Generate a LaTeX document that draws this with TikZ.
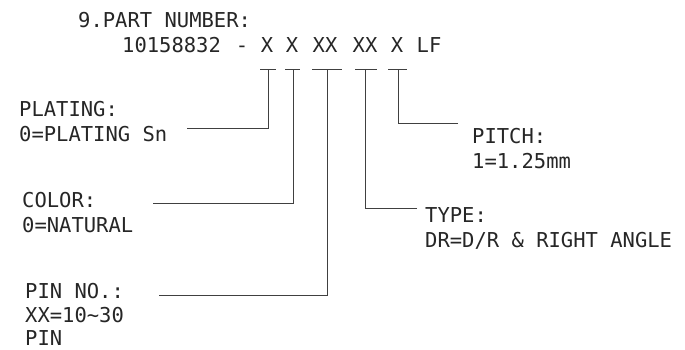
\documentclass[tikz,border=0pt]{standalone}
\usepackage{fontspec}
\newfontfamily\cadfont{DejaVu Sans Mono}
\usetikzlibrary{positioning}

\begin{document}
\begin{tikzpicture}[x=1pt,y=-1pt,lbl/.style={font=\cadfont\fontsize{20.5}{24.5}\selectfont,inner sep=0pt,anchor=base west,align=left,text=black!85},note/.style={lbl,anchor=north west},dig/.style={lbl,anchor=base},conn/.style={line width=1pt,draw=black!75}]
    \useasboundingbox (0,0) rectangle (685,349);
    \node[lbl] (title) at (78,27.5) {9.PART NUMBER:};
    \node[lbl] (pnum) at (122,52.5) {10158832};
    \node[dig] (dash) at (242,52.5) {-};
    \node[dig] (x1) at (267,52.5) {X};
    \node[dig] (x2) at (292,52.5) {X};
    \node[dig] (x3) at (325,52.5) {XX};
    \node[dig] (x4) at (365,52.5) {XX};
    \node[dig] (x5) at (397,52.5) {X};
    \node[dig] (lf) at (429,52.5) {LF};
    \node[note] (plating) at (19,101.5) {PLATING:\\0=PLATING Sn};
    \node[note] (color) at (22,192.5) {COLOR:\\0=NATURAL};
    \node[note,font=\cadfont\fontsize{20.5}{23.2}\selectfont] (pin) at (25,283.5) {PIN NO.:\\XX=10\textasciitilde30\\PIN};
    \node[note] (type) at (425,207.5) {TYPE:\\DR=D/R \& RIGHT ANGLE};
    \node[note] (pitch) at (472,128.5) {PITCH:\\1=1.25mm};
    \coordinate (t1) at (268,69);
    \coordinate (t2) at (293,69);
    \coordinate (t3) at (327,69);
    \coordinate (t4) at (365,69);
    \coordinate (t5) at (398,69);
    \coordinate (platingEnd) at (187,128);
    \coordinate (colorEnd) at (153,203);
    \coordinate (pinEnd) at (159,295);
    \coordinate (typeEnd) at (417,208);
    \coordinate (pitchEnd) at (458,123);
    \draw[conn] ([xshift=-8]t1) -- ([xshift=8]t1);
    \draw[conn] ([xshift=-8]t2) -- ([xshift=7]t2);
    \draw[conn] ([xshift=-15]t3) -- ([xshift=15]t3);
    \draw[conn] ([xshift=-10]t4) -- ([xshift=12]t4);
    \draw[conn] ([xshift=-10]t5) -- ([xshift=9]t5);
    \draw[conn] (platingEnd) -| (t1);
    \draw[conn] (colorEnd) -| (t2);
    \draw[conn] (pinEnd) -| (t3);
    \draw[conn] (typeEnd) -| (t4);
    \draw[conn] (pitchEnd) -| (t5);
\end{tikzpicture}
\end{document}
